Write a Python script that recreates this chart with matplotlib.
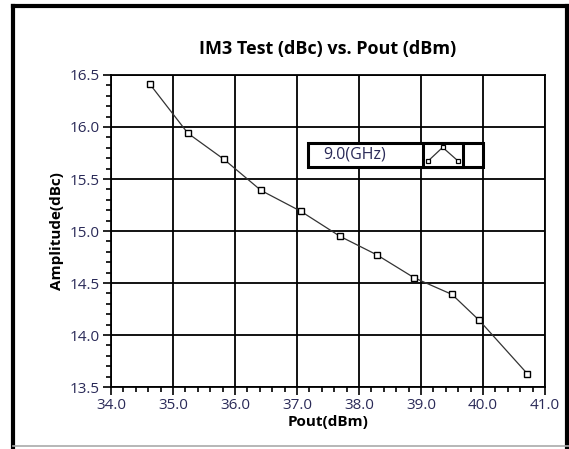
import matplotlib.pyplot as plt
import numpy as np
from matplotlib.patches import Rectangle
from matplotlib.lines import Line2D
from matplotlib.ticker import MultipleLocator, FormatStrFormatter

pout = [34.63, 35.24, 35.82, 36.42, 37.06, 37.69, 38.29, 38.89, 39.50, 39.94, 40.71]
im3 = [16.41, 15.94, 15.69, 15.39, 15.19, 14.95, 14.77, 14.55, 14.39, 14.14, 13.63]
series_name = "9.0(GHz)"

plt.rcParams["font.family"] = ["Open Sans", "DejaVu Sans"]
tick_colour = "#2a2a58"

fig = plt.figure(figsize=(5.69, 4.49), dpi=100)
ax = fig.add_axes([0.195, 0.138, 0.763, 0.695])

ax.plot(pout, im3, color="#333333", lw=0.9, marker="s", ms=5,
        mfc="white", mec="black", mew=1.0, zorder=5)

ax.set_xlim(34.0, 41.0)
ax.set_ylim(13.5, 16.5)
ax.xaxis.set_major_locator(MultipleLocator(1.0))
ax.xaxis.set_minor_locator(MultipleLocator(0.2))
ax.yaxis.set_major_locator(MultipleLocator(0.5))
ax.yaxis.set_minor_locator(MultipleLocator(0.1))
ax.xaxis.set_major_formatter(FormatStrFormatter("%.1f"))
ax.yaxis.set_major_formatter(FormatStrFormatter("%.1f"))
ax.tick_params(which="major", length=6, width=1.2, colors="black",
               labelcolor=tick_colour, labelsize=11, pad=2)
ax.tick_params(which="minor", length=3.5, width=1.2, colors="black")
ax.grid(True, which="major", color="black", lw=1.3)
for s in ax.spines.values():
    s.set_linewidth(1.3)

ax.set_title("IM3 Test (dBc) vs. Pout (dBm)", fontsize=13, fontweight="bold", pad=15)
ax.set_xlabel("Pout(dBm)", fontsize=11, fontweight="bold", labelpad=1)
ax.set_ylabel("Amplitude(dBc)", fontsize=11, fontweight="bold", labelpad=4)

# legend box with name cell, line sample cell and empty cell
lx0, lx1, lx2, lx3 = 0.454, 0.719, 0.811, 0.857
ly0, ly1 = 0.705, 0.783
ax.add_patch(Rectangle((lx0, ly0), lx3 - lx0, ly1 - ly0, transform=ax.transAxes,
                       facecolor="white", edgecolor="black", lw=2.2, zorder=8))
ax.add_patch(Rectangle((lx1, ly0), lx2 - lx1, ly1 - ly0, transform=ax.transAxes,
                       facecolor="white", edgecolor="black", lw=2.2, zorder=9))
ax.text(lx0 + 0.035, (ly0 + ly1) / 2, series_name, transform=ax.transAxes,
        ha="left", va="center", fontsize=11.5, color=tick_colour, zorder=10)
ax.add_line(Line2D([lx1 + 0.012, lx1 + 0.045, lx2 - 0.012],
                   [ly0 + 0.02, ly1 - 0.015, ly0 + 0.02], transform=ax.transAxes,
                   color="#333333", lw=0.9, marker="s", ms=3.5, mfc="white",
                   mec="black", mew=0.9, zorder=10, clip_on=False))

# outer frame of the panel: black left/top/right, grey bottom
fx0, fx1, fy1, fy0 = 13.0 / 569, 566.5 / 569, 1 - 6.0 / 449, 0.006
for xs, ys in [([fx0, fx0], [0.0, fy1]), ([fx0, fx1], [fy1, fy1]), ([fx1, fx1], [fy1, 0.0])]:
    fig.add_artist(Line2D(xs, ys, transform=fig.transFigure, color="black",
                          lw=3.0, solid_capstyle="projecting"))
fig.add_artist(Line2D([fx0, 1.0], [fy0, fy0], transform=fig.transFigure,
                      color="#aaaaaa", lw=1.2))

fig.savefig("out.png", dpi=100)
